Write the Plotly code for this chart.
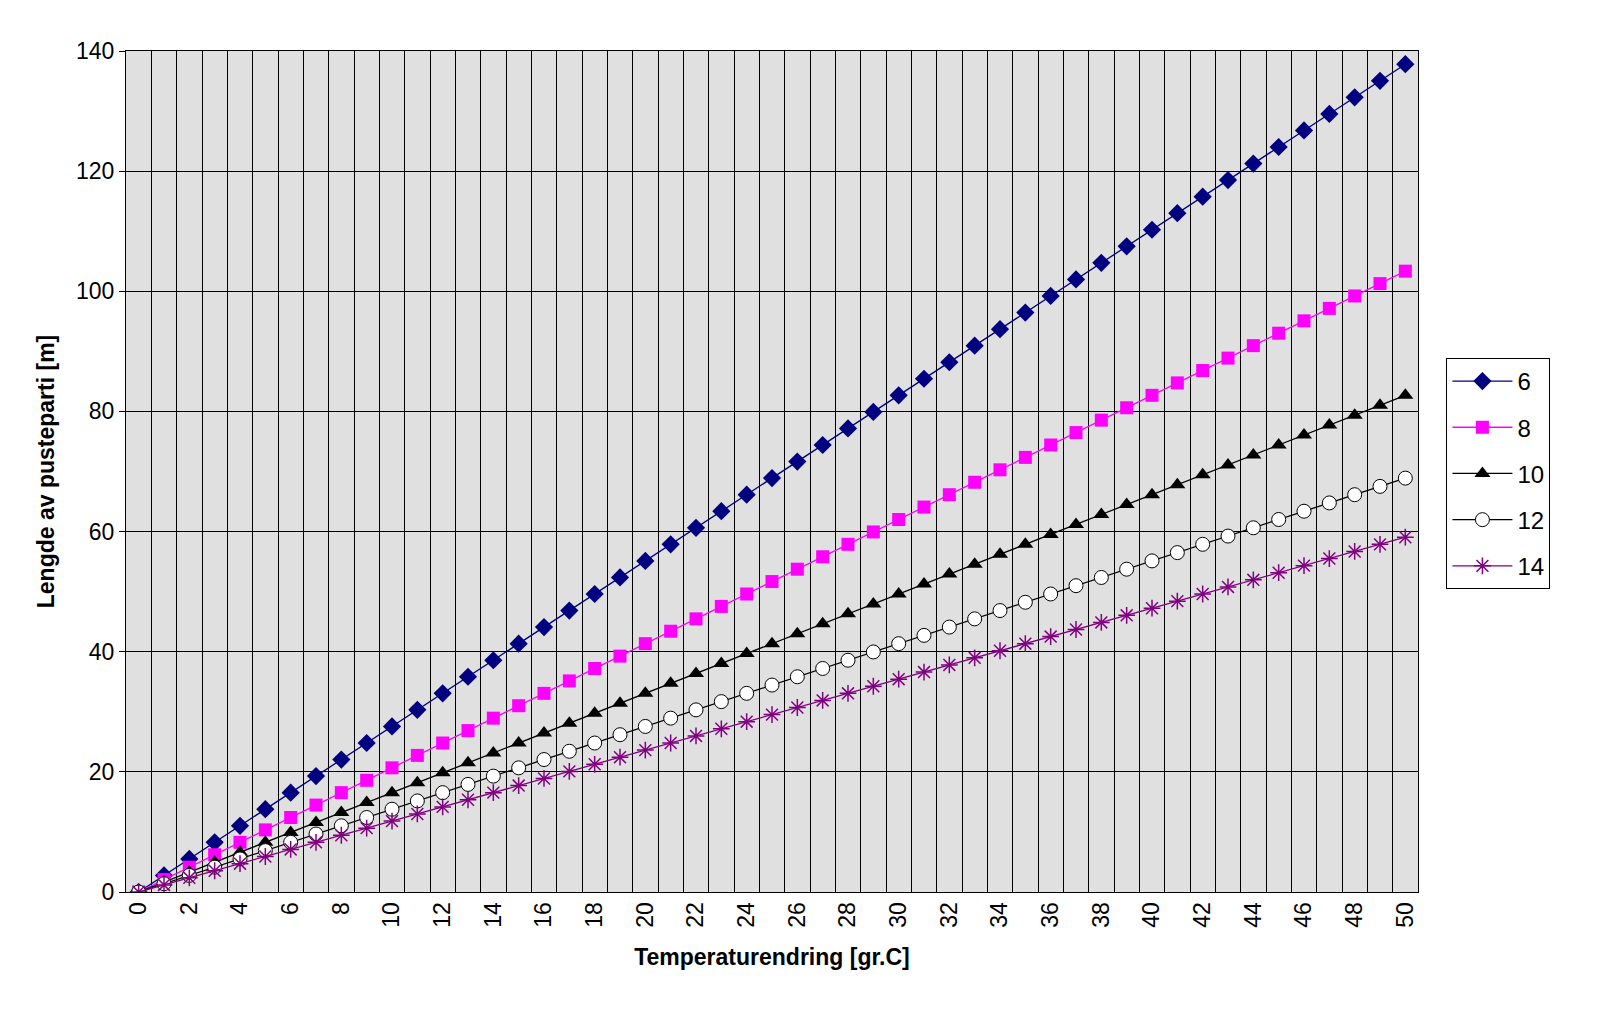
import plotly.graph_objects as go

x = list(range(51))
names = ["6", "8", "10", "12", "14"]
s6 = [0,2.76,5.51,8.27,11.02,13.78,16.54,19.29,22.05,24.80,27.56,30.32,33.07,35.83,38.58,41.34,44.10,46.85,49.61,52.36,55.12,57.88,60.63,63.39,66.14,68.90,71.66,74.41,77.17,79.92,82.68,85.44,88.19,90.95,93.70,96.46,99.22,101.97,104.73,107.48,110.24,113.00,115.75,118.51,121.26,124.02,126.78,129.53,132.29,135.04,137.80]
s8 = [0,2.07,4.13,6.20,8.27,10.34,12.40,14.47,16.54,18.60,20.67,22.74,24.80,26.87,28.94,31.01,33.07,35.14,37.21,39.27,41.34,43.41,45.47,47.54,49.61,51.68,53.74,55.81,57.88,59.94,62.01,64.08,66.14,68.21,70.28,72.35,74.41,76.48,78.55,80.61,82.68,84.75,86.81,88.88,90.95,93.02,95.08,97.15,99.22,101.28,103.35]
s10 = [0,1.65,3.31,4.96,6.61,8.27,9.92,11.58,13.23,14.88,16.54,18.19,19.84,21.50,23.15,24.80,26.46,28.11,29.76,31.42,33.07,34.73,36.38,38.03,39.69,41.34,42.99,44.65,46.30,47.95,49.61,51.26,52.92,54.57,56.22,57.88,59.53,61.18,62.84,64.49,66.14,67.80,69.45,71.10,72.76,74.41,76.07,77.72,79.37,81.03,82.68]
s12 = [0,1.38,2.76,4.13,5.51,6.89,8.27,9.65,11.02,12.40,13.78,15.16,16.54,17.91,19.29,20.67,22.05,23.43,24.80,26.18,27.56,28.94,30.32,31.69,33.07,34.45,35.83,37.21,38.58,39.96,41.34,42.72,44.10,45.47,46.85,48.23,49.61,50.99,52.36,53.74,55.12,56.50,57.88,59.25,60.63,62.01,63.39,64.77,66.14,67.52,68.90]
s14 = [0,1.18,2.36,3.54,4.72,5.91,7.09,8.27,9.45,10.63,11.81,12.99,14.17,15.35,16.54,17.72,18.90,20.08,21.26,22.44,23.62,24.80,25.98,27.17,28.35,29.53,30.71,31.89,33.07,34.25,35.43,36.61,37.80,38.98,40.16,41.34,42.52,43.70,44.88,46.06,47.24,48.42,49.61,50.79,51.97,53.15,54.33,55.51,56.69,57.87,59.06]

series = [s6, s8, s10, s12, s14]
styles = [
    ("#000080", dict(symbol="diamond", size=14, color="#000080")),
    ("#FF00FF", dict(symbol="square", size=13, color="#FF00FF")),
    ("#000000", dict(symbol="triangle-up", size=14, color="#000000")),
    ("#000000", dict(symbol="circle", size=14, color="white", line=dict(color="black", width=1))),
    ("#800080", dict(symbol="asterisk-open", size=14, color="#800080", line=dict(color="#800080", width=1.5))),
]

fig = go.Figure()
for n, s, (lc, mk) in zip(names, series, styles):
    fig.add_trace(go.Scatter(x=x, y=s, name=n, legendgroup=n, mode="lines+markers",
                             line=dict(color=lc, width=1.3), marker=mk))

fig.update_layout(
    width=1600, height=1020,
    margin=dict(l=118, r=190, t=43, b=136, autoexpand=False),
    paper_bgcolor="white", plot_bgcolor="#E0E0E0",
    font=dict(family="Liberation Sans, Arial", size=23, color="black"),
    legend=dict(x=1.022, y=0.635, xanchor="left", yanchor="top",
                bordercolor="black", borderwidth=1, bgcolor="white",
                font=dict(size=24), tracegroupgap=12, itemwidth=60),
    xaxis=dict(range=[-0.5, 50.5], tickmode="linear", tick0=0, dtick=2,
               tickangle=-90, showgrid=False, zeroline=False, automargin=False,
               showline=True, linecolor="black", mirror=True, ticks="",
               minor=dict(tick0=0.5, dtick=1, showgrid=True, gridcolor="black", gridwidth=1),
               title=dict(text="<b>Temperaturendring [gr.C]</b>", font=dict(size=23), standoff=22)),
    yaxis=dict(range=[0, 140], dtick=20, showgrid=True, gridcolor="black", gridwidth=1,
               zeroline=False, showline=True, linecolor="black", mirror=True, automargin=False,
               ticks="outside", ticklen=6, tickcolor="black",
               title=dict(text="<b>Lengde av pusteparti [m]</b>", font=dict(size=23), standoff=14)),
)
fig.write_html("out.html")
